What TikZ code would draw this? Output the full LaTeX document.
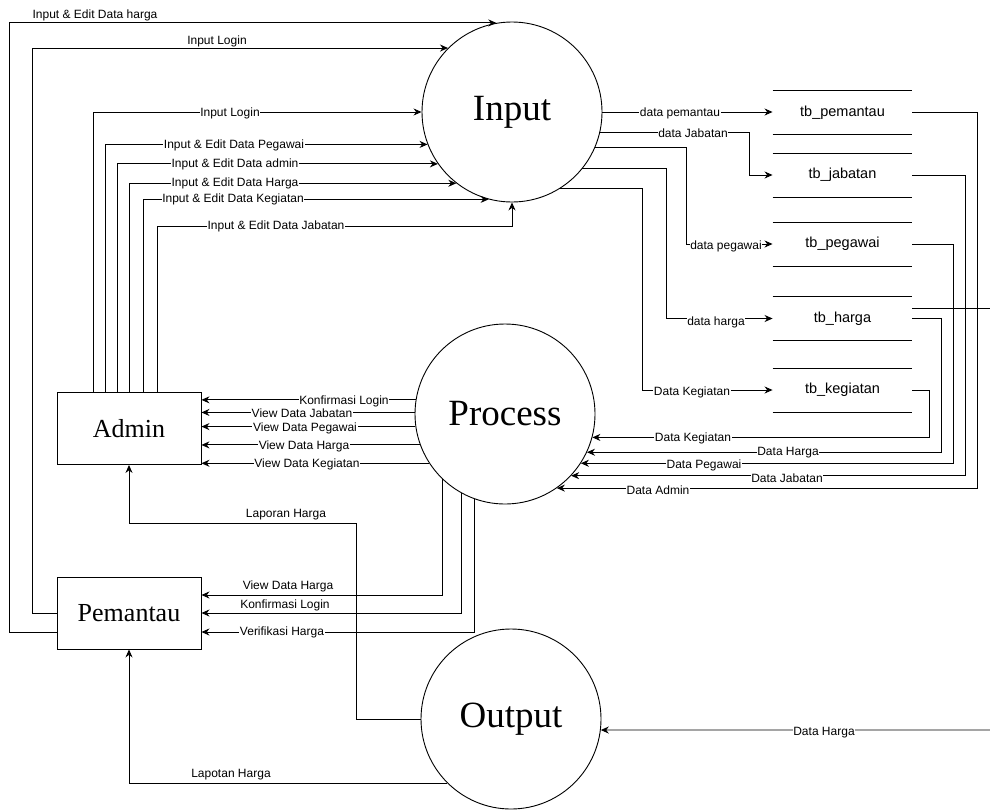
\documentclass[tikz,border=0pt]{standalone}
\usepackage{fontspec}
\setmainfont{Liberation Serif}
\newfontfamily\labfont{Liberation Sans}
\usetikzlibrary{arrows.meta}
\begin{document}
\begin{tikzpicture}[x=1pt,y=-1pt,
  line width=0.9pt,
  arr/.style={-{Stealth[length=8pt,width=7pt]}},
  proc/.style={circle,draw,minimum size=180pt,inner sep=0pt,font=\fontsize{37}{37}\selectfont},
  ent/.style={rectangle,draw,minimum width=144pt,minimum height=72pt,inner sep=0pt,font=\fontsize{26}{26}\selectfont},
  store/.style={minimum width=139pt,minimum height=43pt,inner sep=0pt,font=\labfont\fontsize{14.5}{14.5}\selectfont},
  lbl/.style={font=\labfont\fontsize{12}{12}\selectfont,inner sep=0.6pt,fill=white},
  lbln/.style={font=\labfont\fontsize{12}{12}\selectfont,inner sep=0.6pt},
]
\useasboundingbox (0,0) rectangle (990,809);

% processes and entities
\node[proc] (I) at (512,112) {Input};
\node[proc] (P) at (505,414) {Process};
\node[proc] (O) at (511,719) {Output};
\node[ent] (A) at (129,428.5) {Admin};
\node[ent] (Pem) at (129,613) {Pemantau};

% data stores
\node[store] (tbp) at (842.5,112.5) {tb\_pemantau};
\node[store] (tbj) at (842.5,175) {tb\_jabatan};
\node[store] (tbg) at (842.5,244) {tb\_pegawai};
\node[store] (tbh) at (842.5,318.5) {tb\_harga};
\node[store] (tbk) at (842.5,390) {tb\_kegiatan};
\foreach \s in {tbp,tbj,tbg,tbh,tbk}{
  \draw (\s.north west) -- (\s.north east) (\s.south west) -- (\s.south east);
}
\coordinate (dhin) at (990,730);

% Pemantau -> Input
\draw[arr] ([yshift=-19pt]Pem.west) -- ++(-47,0) |- (I.100);
\draw[arr] (Pem.west) -- ++(-24,0) |- (I.135.6);

% Admin -> Input
\draw[arr] ([xshift=-36pt]A.north) |- (I.180);
\draw[arr] ([xshift=-24pt]A.north) |- (I.201.5);
\draw[arr] ([xshift=-12pt]A.north) |- (I.215.3);
\draw[arr] (A.north) |- (I.232.1);
\draw[arr] ([xshift=14pt]A.north) |- (I.255);
\draw[arr] ([xshift=28pt]A.north) |- ([yshift=-24pt]I.south) -- (I.south);

% Input -> stores
\draw[arr] (I.east) -- (I.east -| tbp.west);
\draw[arr] (I.-13.5) -| ([xshift=-23pt]tbj.west) -- (tbj.west);
\draw[arr] (I.-23.6) -| ([xshift=-86pt]tbg.west) -- (tbg.west);
\draw[arr] (I.-39.3) -| ([xshift=-106pt]tbh.west) -- (tbh.west);
\draw[arr] (I.-58.8) -| ([xshift=-130pt]tbk.west) -- (tbk.west);

% stores -> Process
\draw[arr] (tbk.east) -- ++(17,0) |- (P.-15.5);
\draw[arr] (tbh.east) -- ++(29,0) |- (P.-25.7);
\draw[arr] (tbg.east) -- ++(41,0) |- (P.-33.7);
\draw[arr] (tbj.east) -- ++(53,0) |- (P.-43.5);
\draw[arr] (tbp.east) -- ++(65,0) |- (P.-55.3);
\draw ([yshift=10.5pt]tbh.east) -- ++(78,0);

% Process -> Admin
\draw[arr] (P.171.7) -- (P.171.7 -| A.east);
\draw[arr] (P.179.4) -- (P.179.4 -| A.east);
\draw[arr] (P.188.9) -- (P.188.9 -| A.east);
\draw[arr] (P.200.8) -- (P.200.8 -| A.east);
\draw[arr] (P.213.7) -- (P.213.7 -| A.east);

% Process -> Pemantau
\draw[arr] (P.-134.4) |- ([yshift=18pt]Pem.east);
\draw[arr] (P.-119.3) |- (Pem.east);
\draw[arr] (P.-110.1) |- ([yshift=-19pt]Pem.east);

% Output
\coordinate (lh) at (356,523);
\draw[arr] (O.west) -| (lh) -| (A.south);
\draw[arr] (O.225.3) -| (Pem.south);
\draw[arr] (dhin) -- (O.-7);

% labels
\node[lbln] (l1) at (95,15) {Input \& Edit Data harga};
\node[lbln] (l2) at (217,41) {Input Login};
\node[lbl] (l3) at (230,113) {Input Login};
\node[lbl] (l4) at (234,145) {Input \& Edit Data Pegawai};
\node[lbl] (l5) at (235,164) {Input \& Edit Data admin};
\node[lbl] (l6) at (235,183) {Input \& Edit Data Harga};
\node[lbl] (l7) at (233,199) {Input \& Edit Data Kegiatan};
\node[lbl] (l8) at (276,226) {Input \& Edit Data Jabatan};

\node[lbl] (l9) at (680,113) {data pemantau};
\node[lbl] (l10) at (693,133) {data Jabatan};
\node[lbl] (l11) at (726,246) {data pegawai};
\node[lbl] (l12) at (716,322) {data harga};
\node[lbl] (l13) at (692,392) {Data Kegiatan};

\node[lbl] (l14) at (693,438) {Data Kegiatan};
\node[lbl] (l15) at (788,453) {Data Harga};
\node[lbl] (l16) at (704,465) {Data Pegawai};
\node[lbl] (l17) at (787,478) {Data Jabatan};
\node[lbl] (l18) at (658,490) {Data Admin};

\node[lbl] (l19) at (344,401) {Konfirmasi Login};
\node[lbl] (l20) at (302,413) {View Data Jabatan};
\node[lbl] (l21) at (305,428) {View Data Pegawai};
\node[lbl] (l22) at (304,446) {View Data Harga};
\node[lbl] (l23) at (307,464) {View Data Kegiatan};

\node[lbln] (l24) at (286,515) {Laporan Harga};
\node[lbln] (l25) at (288,586) {View Data Harga};
\node[lbln] (l26) at (285,605) {Konfirmasi Login};
\node[lbl] (l27) at (282,632) {Verifikasi Harga};
\node[lbln] (l28) at (231,775) {Lapotan Harga};
\node[lbl] (l29) at (824,733) {Data Harga};
\end{tikzpicture}
\end{document}
